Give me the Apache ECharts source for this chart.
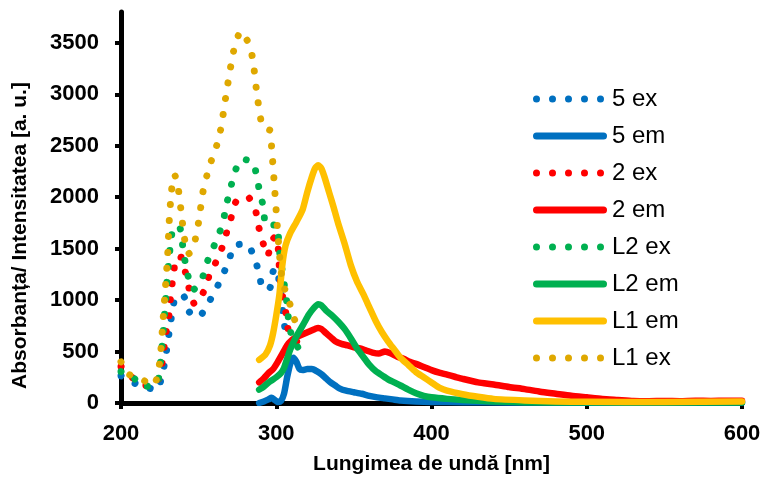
<!DOCTYPE html>
<html>
<head>
<meta charset="utf-8">
<script src="https://cdn.jsdelivr.net/npm/echarts@6/dist/echarts.min.js"></script>
<style>
  html, body { margin: 0; padding: 0; background: #fff; }
  #chart { width: 763px; height: 477px; }
</style>
</head>
<body>
<div id="chart"></div>
<script>
// wavelength [nm], intensity pairs
const ex5 = [[200,265],[207.5,200],[215,160],[223,125],[226.5,270],[228.5,425],[230,580],[231.5,735],[233,885],[235.5,1040],[240.5,1035],[244,885],[250,835],[256,965],[261,1100],[265.5,1240],[269.5,1385],[273,1530],[281,1545],[286,1410],[289,1255],[291.5,1105],[296,1120],[298,1280],[300.5,1310],[302,1160],[303.5,1000],[304.5,830],[306,695]]
const em5 = [[289,0],[292,15],[295,35],[297,50],[299,30],[301,10],[303,20],[305,90],[307,250],[309,380],[311,440],[313,400],[315,330],[317,320],[320,330],[323,330],[326,310],[329,280],[332,240],[335,200],[338,170],[341,140],[345,120],[350,105],[355,90],[360,70],[365,55],[370,45],[375,35],[380,25],[390,15],[400,10],[420,8],[450,5],[500,3],[600,5]]
const ex2 = [[200,355],[207.5,245],[215.5,170],[223,190],[226,350],[227.5,500],[228.5,650],[230.5,800],[231.5,960],[232.5,1110],[234,1270],[235.5,1420],[239,1415],[241.5,1270],[244,1105],[247.5,960],[253,1075],[256.5,1225],[261,1365],[265,1505],[268,1655],[271,1805],[274,1955],[281.5,2005],[286.5,1880],[288.5,1725],[291,1580],[294.5,1430],[297,1580],[300,1620],[301.5,1465],[302,1310],[303,1155],[304.5,1000],[306.5,850],[308,695],[313,600],[319,520]]
const em2 = [[289,200],[292,240],[295,290],[298,330],[301,400],[304,480],[307,560],[310,610],[313,640],[316,660],[319,680],[322,700],[325,720],[327,730],[329,720],[332,680],[335,640],[338,600],[342,575],[346,560],[350,540],[354,530],[358,510],[362,490],[366,480],[370,500],[374,480],[378,450],[382,430],[386,400],[390,380],[395,350],[400,320],[405,295],[410,275],[415,255],[420,235],[430,200],[440,180],[450,155],[460,135],[470,110],[480,90],[490,70],[500,55],[510,40],[520,30],[530,20],[540,18],[550,20],[560,18],[570,22],[580,20],[590,22],[600,22]]
const exL2 = [[200,305],[207,265],[213.5,160],[223,182],[225.5,400],[227,650],[228.5,950],[230,1250],[231,1410],[232,1560],[234,1715],[238,1700],[239.5,1555],[241,1400],[243,1245],[246.5,1100],[252,1200],[255,1350],[259,1495],[263,1635],[266,1780],[268,1935],[270.5,2080],[273,2235],[278,2370],[285,2340],[287.5,2195],[289.5,2040],[292,1890],[293,1730],[297.5,1730],[301,1730],[301.5,1580],[302.5,1425],[304,1270],[305.5,1115],[307,960],[308,800],[310,650],[315,515]]
const emL2 = [[289,130],[292,160],[296,210],[300,250],[303,290],[305,340],[307,430],[309,520],[312,620],[315,700],[318,780],[321,860],[324,920],[327,960],[329,950],[332,900],[336,850],[340,790],[344,720],[348,630],[352,530],[356,450],[360,370],[364,310],[368,270],[372,230],[376,200],[380,170],[385,130],[390,95],[395,70],[400,55],[410,40],[420,30],[440,15],[460,8],[500,5],[600,5]]
const emL1 = [[289,420],[293,470],[296,560],[298,680],[300,850],[302,1050],[304,1350],[306,1530],[309,1650],[313,1760],[317,1880],[320,2050],[323,2200],[325,2280],[327,2310],[329,2280],[331,2200],[334,2050],[337,1900],[340,1740],[344,1550],[348,1340],[352,1180],[356,1060],[360,930],[364,800],[368,690],[372,600],[376,520],[380,440],[385,370],[390,300],[395,250],[400,200],[405,150],[410,120],[420,85],[430,60],[440,40],[460,25],[480,15],[500,12],[550,10],[600,15]]
const exL1 = [[200,400],[205,280],[213,232],[221,172],[224,300],[225.5,480],[227,790],[228.5,1100],[230,1420],[231,1750],[232.5,2060],[234.5,2220],[237,2070],[239.5,1760],[241,1590],[243.5,1450],[246,1480],[248,1600],[250,1760],[253,2070],[255.5,2220],[258.5,2370],[262,2520],[264.5,2680],[267.5,2980],[271,3300],[273,3450],[277,3610],[282.5,3490],[285,3330],[287.5,3010],[290.5,2720],[293,2660],[296,2650],[297,2490],[298.5,2180],[300,1860],[301.5,1550],[303.5,1230],[306,1080],[309.5,930],[312.5,775]]

const yTicks = [0, 500, 1000, 1500, 2000, 2500, 3000, 3500]

// legend icons: five round dots, or a thick round-ended bar (74 x 7 box)
const dotIcon = "path://" + [3.5, 19.5, 35.5, 51.5, 67.5]
  .map((c) => `M${c - 3.5},3.5 A3.5,3.5 0 1,0 ${c + 3.5},3.5 A3.5,3.5 0 1,0 ${c - 3.5},3.5 Z`)
  .join(" ") + " M74,3.5 L74,3.5"
const barIcon = "path://M3.5,0 L70.5,0 A3.5,3.5 0 0,1 70.5,7 L3.5,7 A3.5,3.5 0 0,1 3.5,0 Z"

const chart = echarts.init(document.getElementById("chart"), null, { renderer: "canvas" })

const dotted = (name, data, color) => ({
  name,
  type: "line",
  data,
  symbol: "none",
  clip: false,
  smooth: 0.2,
  lineStyle: { color, width: 7, type: [0.01, 16], cap: "round" },
  itemStyle: { color },
})
const solid = (name, data, color) => ({
  name,
  type: "line",
  data,
  symbol: "none",
  smooth: 0.2,
  lineStyle: { color, width: 6.5, cap: "round", join: "round" },
  itemStyle: { color },
})

const axisFont = { fontFamily: "Liberation Sans", fontWeight: "bold", color: "#000" }

chart.setOption({
  animation: false,
  backgroundColor: "#fff",
  grid: { left: 121, right: 21, top: 12, bottom: 74, outerBoundsMode: "none" },
  legend: {
    orient: "vertical",
    left: 533,
    top: 87,
    padding: 0,
    itemWidth: 74,
    itemHeight: 7,
    itemGap: 13,
    textStyle: { fontFamily: "Liberation Sans", fontSize: 24, color: "#000" },
    data: [
      { name: "5 ex", icon: dotIcon },
      { name: "5 em", icon: barIcon },
      { name: "2 ex", icon: dotIcon },
      { name: "2 em", icon: barIcon },
      { name: "L2 ex", icon: dotIcon },
      { name: "L2 em", icon: barIcon },
      { name: "L1 em", icon: barIcon },
      { name: "L1 ex", icon: dotIcon },
    ],
  },
  xAxis: {
    type: "value",
    min: 200,
    max: 600,
    interval: 100,
    name: "Lungimea de undă [nm]",
    nameLocation: "middle",
    nameGap: 51,
    nameTextStyle: { ...axisFont, fontSize: 21 },
    axisLine: { lineStyle: { color: "#000", width: 5 } },
    axisTick: { length: 6, lineStyle: { color: "#000", width: 4 } },
    axisLabel: { ...axisFont, fontSize: 22, margin: 20 },
    splitLine: { show: false },
  },
  yAxis: {
    type: "value",
    min: 0,
    max: 3800,
    name: "Absorbanța/ Intensitatea [a. u.]",
    nameLocation: "middle",
    nameGap: 90,
    nameTextStyle: { ...axisFont, fontSize: 21, padding: [0, 56, 0, 0] },
    axisLine: { lineStyle: { color: "#000", width: 5 } },
    axisTick: { length: 6, customValues: yTicks, lineStyle: { color: "#000", width: 4 } },
    axisLabel: { ...axisFont, fontSize: 22, margin: 22, customValues: yTicks, formatter: (v) => String(v) },
    splitLine: { show: false },
  },
  series: [
    dotted("5 ex", ex5, "#0070C0"),
    solid("5 em", em5, "#0070C0"),
    dotted("2 ex", ex2, "#FF0000"),
    solid("2 em", em2, "#FF0000"),
    dotted("L2 ex", exL2, "#00B050"),
    solid("L2 em", emL2, "#00B050"),
    solid("L1 em", emL1, "#FFC000"),
    dotted("L1 ex", exL1, "#DFA800"),
  ],
})
</script>
</body>
</html>
